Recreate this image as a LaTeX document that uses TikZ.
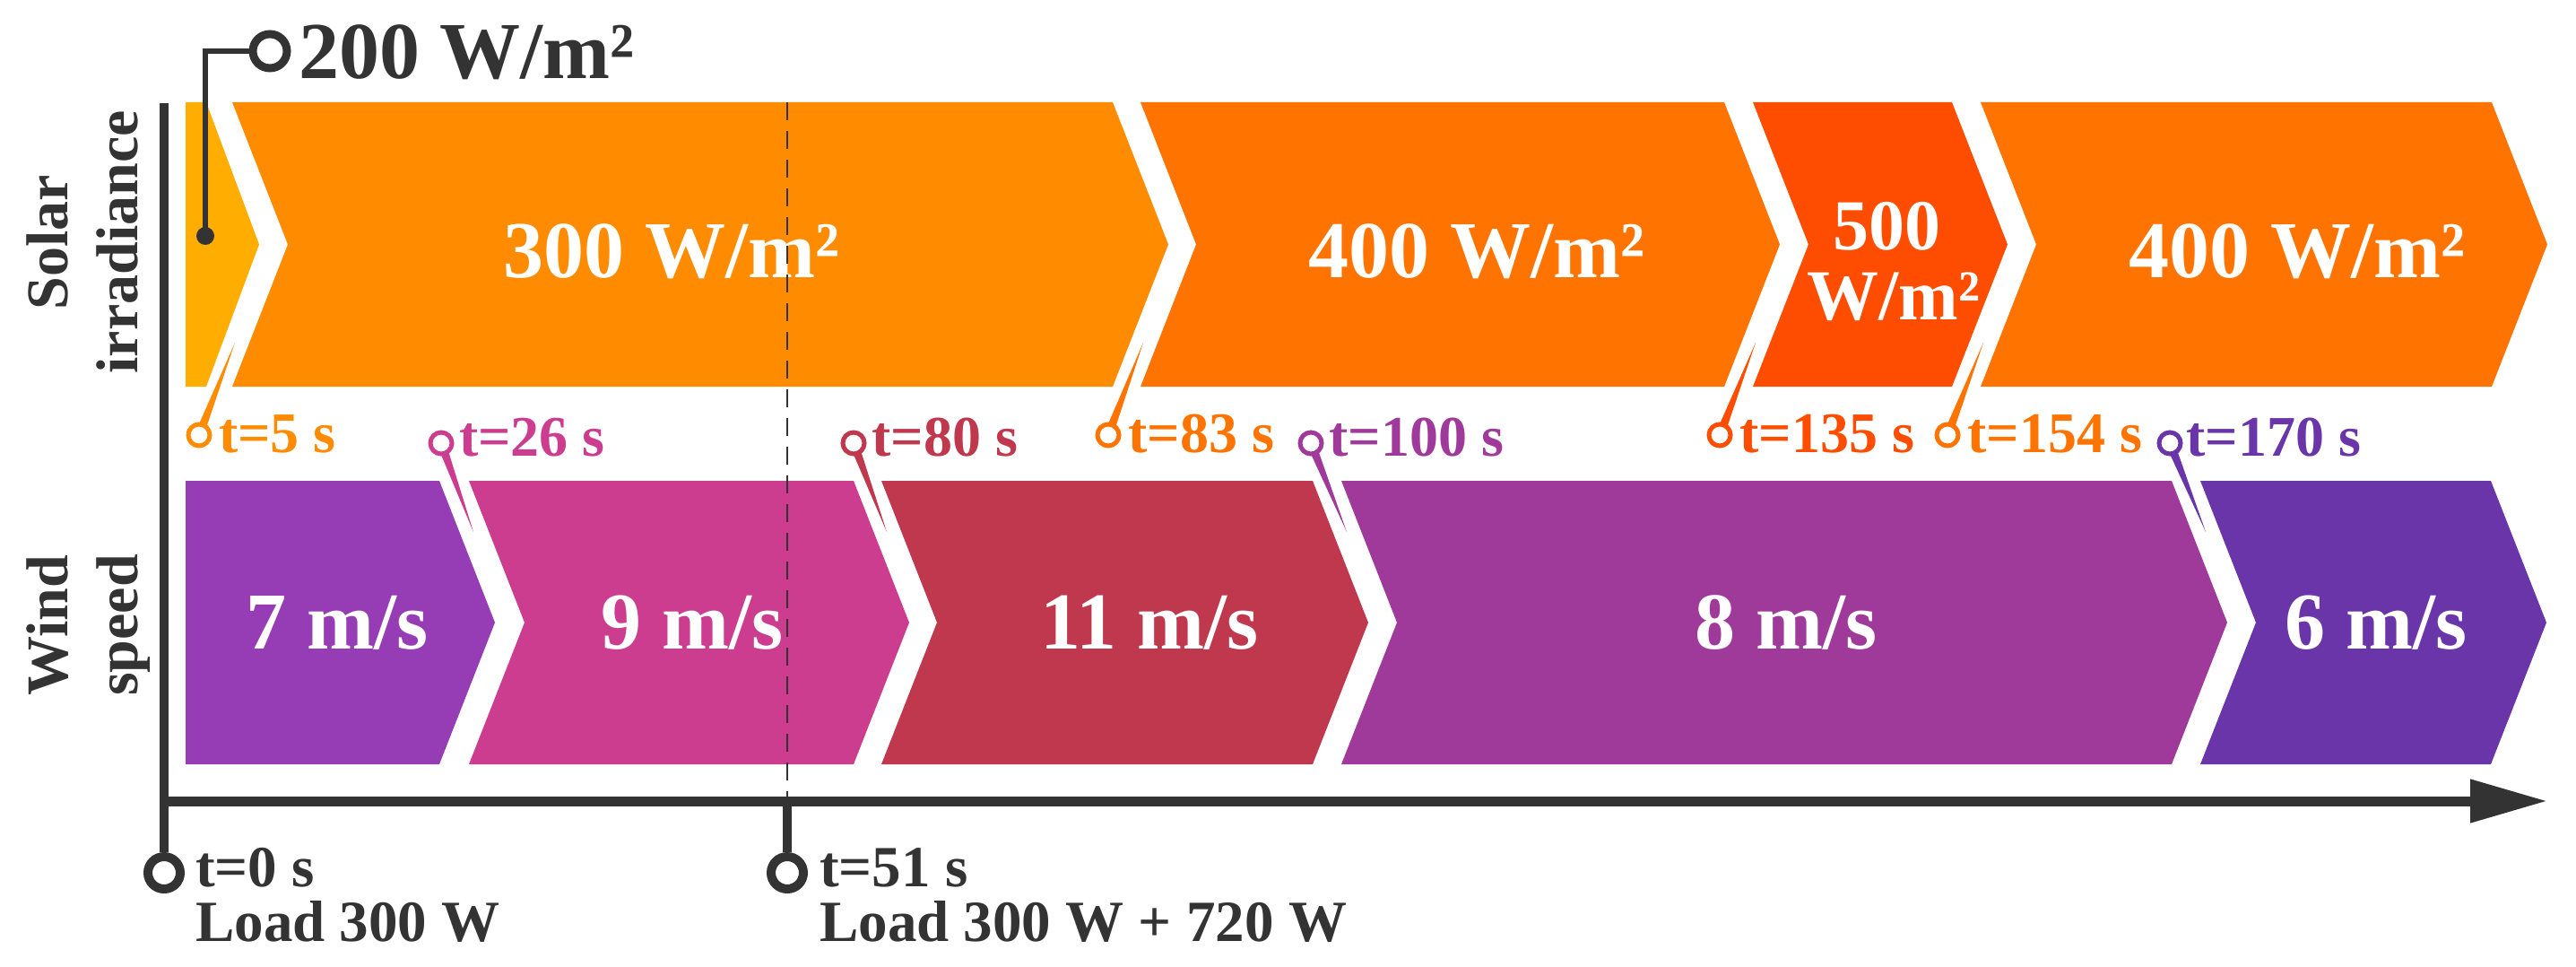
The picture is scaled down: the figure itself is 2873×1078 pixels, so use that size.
\documentclass[tikz,border=0pt]{standalone}
\usepackage{fontspec}
\setmainfont{Liberation Serif}
\usetikzlibrary{calc,arrows.meta}
\definecolor{cY}{HTML}{FFAE00}
\definecolor{cOA}{HTML}{FF8C00}
\definecolor{cOB}{HTML}{FF7300}
\definecolor{cOC}{HTML}{FF4D00}
\definecolor{cWA}{HTML}{963CB4}
\definecolor{cWB}{HTML}{CC3D8F}
\definecolor{cWC}{HTML}{BF384E}
\definecolor{cWD}{HTML}{A03A9A}
\definecolor{cWE}{HTML}{6A35A8}
\definecolor{dk}{HTML}{333333}
\newcommand\pinwedge[3]{%
  \path[draw=white,line width=6pt,line join=round] ($(#1)!5pt!90:(#2)$) -- (#2) -- ($(#1)!5pt!-90:(#2)$) -- cycle;
  \fill[#3] ($(#1)!5pt!90:(#2)$) -- (#2) -- ($(#1)!5pt!-90:(#2)$) -- cycle;}
\tikzset{
  big/.style={font=\fontsize{90}{90}\selectfont\bfseries, text=white, inner sep=0pt, anchor=base},
  mid/.style={font=\fontsize{80}{80}\selectfont\bfseries, text=white, inner sep=0pt, anchor=base},
  pinlab/.style={font=\fontsize{64}{64}\selectfont\bfseries, inner sep=0pt, anchor=base west},
  axlab/.style={font=\fontsize{65}{65}\selectfont\bfseries, text=dk, inner sep=0pt, anchor=base west},
  sidelab/.style={font=\fontsize{66}{66}\selectfont\bfseries, text=dk, inner sep=0pt, anchor=base, rotate=90},
  pinc/.style={circle, draw=#1, line width=5pt, fill=white, minimum size=24pt, inner sep=0pt},
  bigc/.style={circle, draw=dk, line width=9pt, fill=white, minimum size=38pt, inner sep=0pt},
  axisline/.style={draw=dk, line width=11pt},
  tickline/.style={draw=dk, line width=10pt},
}
\begin{document}
\begin{tikzpicture}[x=1pt,y=-1pt]
\useasboundingbox (0,0) rectangle (2873,1078);
% ---- solar band (top 114, bottom 431, mid 272.5)
\fill[cY]  (207,114) -- (230,114) -- (289,272.5) -- (230,431) -- (207,431) -- cycle;
\fill[cOA] (259,114) -- (1241,114) -- (1303,272.5) -- (1241,431) -- (259,431) -- (321,272.5) -- cycle;
\fill[cOB] (1272,114) -- (1923,114) -- (1985,272.5) -- (1923,431) -- (1272,431) -- (1334,272.5) -- cycle;
\fill[cOC] (1955,114) -- (2177,114) -- (2239,272.5) -- (2177,431) -- (1955,431) -- (2017,272.5) -- cycle;
\fill[cOB] (2209,114) -- (2779,114) -- (2841,272.5) -- (2779,431) -- (2209,431) -- (2271,272.5) -- cycle;
% ---- wind band (top 536, bottom 852, mid 694)
\fill[cWA] (207,536) -- (490,536) -- (552,694) -- (490,852) -- (207,852) -- cycle;
\fill[cWB] (523,536) -- (952,536) -- (1014,694) -- (952,852) -- (523,852) -- (585,694) -- cycle;
\fill[cWC] (983,536) -- (1464,536) -- (1526,694) -- (1464,852) -- (983,852) -- (1045,694) -- cycle;
\fill[cWD] (1496,536) -- (2422,536) -- (2484,694) -- (2422,852) -- (1496,852) -- (1558,694) -- cycle;
\fill[cWE] (2454,536) -- (2778,536) -- (2840,694) -- (2778,852) -- (2454,852) -- (2516,694) -- cycle;
% ---- band texts
\node[big] (s300) at (749,309) {300 W/m²};
\node[big] (s400a) at (1647,309) {400 W/m²};
\node[mid] (s500a) at (2104,278) {500};
\node[mid] (s500b) at (2112,356) {W/m²};
\node[big] (s400b) at (2562,309) {400 W/m²};
\node[big] (w7) at (376,723) {7 m/s};
\node[big] (w9) at (772,723) {9 m/s};
\node[big] (w11) at (1282,723) {11 m/s};
\node[big] (w8) at (1992,723) {8 m/s};
\node[big] (w6) at (2650,723) {6 m/s};
% ---- pins (coordinates of tips)
\coordinate (t5) at (262,382);
\coordinate (t83) at (1275,382);
\coordinate (t135) at (1958,382);
\coordinate (t154) at (2212,382);
\coordinate (t26) at (528,593);
\coordinate (t80) at (989,593);
\coordinate (t100) at (1502,593);
\coordinate (t170) at (2460,593);
\coordinate (p5) at (222,485);
\coordinate (p83) at (1236,485);
\coordinate (p135) at (1918,485);
\coordinate (p154) at (2172,485);
\coordinate (p26) at (492,494);
\coordinate (p80) at (952,494);
\coordinate (p100) at (1462,494);
\coordinate (p170) at (2420,494);
\pinwedge{p5}{t5}{cOA}
\pinwedge{p83}{t83}{cOB}
\pinwedge{p135}{t135}{cOC}
\pinwedge{p154}{t154}{cOB}
\pinwedge{p26}{t26}{cWB}
\pinwedge{p80}{t80}{cWC}
\pinwedge{p100}{t100}{cWD}
\pinwedge{p170}{t170}{cWE}
\node[pinc=cOA] (c5) at (p5) {};
\node[pinc=cOB] (c83) at (p83) {};
\node[pinc=cOC] (c135) at (p135) {};
\node[pinc=cOB] (c154) at (p154) {};
\node[pinc=cWB] (c26) at (p26) {};
\node[pinc=cWC] (c80) at (p80) {};
\node[pinc=cWD] (c100) at (p100) {};
\node[pinc=cWE] (c170) at (p170) {};
\node[pinlab, text=cOA] (l5) at (244,504) {t=5 s};
\node[pinlab, text=cOB] (l83) at (1258,504) {t=83 s};
\node[pinlab, text=cOC] (l135) at (1940,504) {t=135 s};
\node[pinlab, text=cOB] (l154) at (2194,504) {t=154 s};
\node[pinlab, text=cWB] (l26) at (512,508) {t=26 s};
\node[pinlab, text=cWC] (l80) at (972,508) {t=80 s};
\node[pinlab, text=cWD] (l100) at (1482,508) {t=100 s};
\node[pinlab, text=cWE] (l170) at (2438,508) {t=170 s};
% ---- 200 W/m2 callout
\node[bigc] (c200) at (301,57) {};
\coordinate (k200) at (229,57);
\node[circle, fill=dk, minimum size=20pt, inner sep=0pt] (d200) at (229,263) {};
\draw[dk, line width=6pt] (d200.center) -- (k200) -- (c200.west);
\node[big, text=dk, anchor=base west] (l200) at (333,88) {200 W/m²};
% ---- side labels
\node[sidelab] (lsol) at (75,270) {Solar};
\node[sidelab] (lirr) at (153,270) {irradiance};
\node[sidelab] (lwin) at (75,697) {Wind};
\node[sidelab] (lspe) at (153,697) {speed};
% ---- axes
\coordinate (axtop) at (183,115);
\coordinate (ax0) at (183,893);
\coordinate (axend) at (2841,893);
\coordinate (d51top) at (878,114);
\coordinate (d51ax) at (878,893);
\node[bigc, minimum size=36pt, line width=10pt] (c0) at (183,973) {};
\node[bigc, minimum size=36pt, line width=10pt] (c51) at (878,973) {};
\draw[tickline] (axtop) -- (c0.north);
\draw[tickline] (d51ax) -- (c51.north);
\draw[axisline, -{Triangle[length=86pt,width=46pt]}] (ax0) -- (axend);
\draw[dk, line width=2.5pt, dash pattern=on 20pt off 12pt] (d51top) -- (d51ax);
\node[axlab] (l0a) at (218,988) {t=0 s};
\node[axlab] (l0b) at (218,1049) {Load 300 W};
\node[axlab] (l51a) at (914,988) {t=51 s};
\node[axlab] (l51b) at (914,1049) {Load 300 W + 720 W};
\end{tikzpicture}
\end{document}
